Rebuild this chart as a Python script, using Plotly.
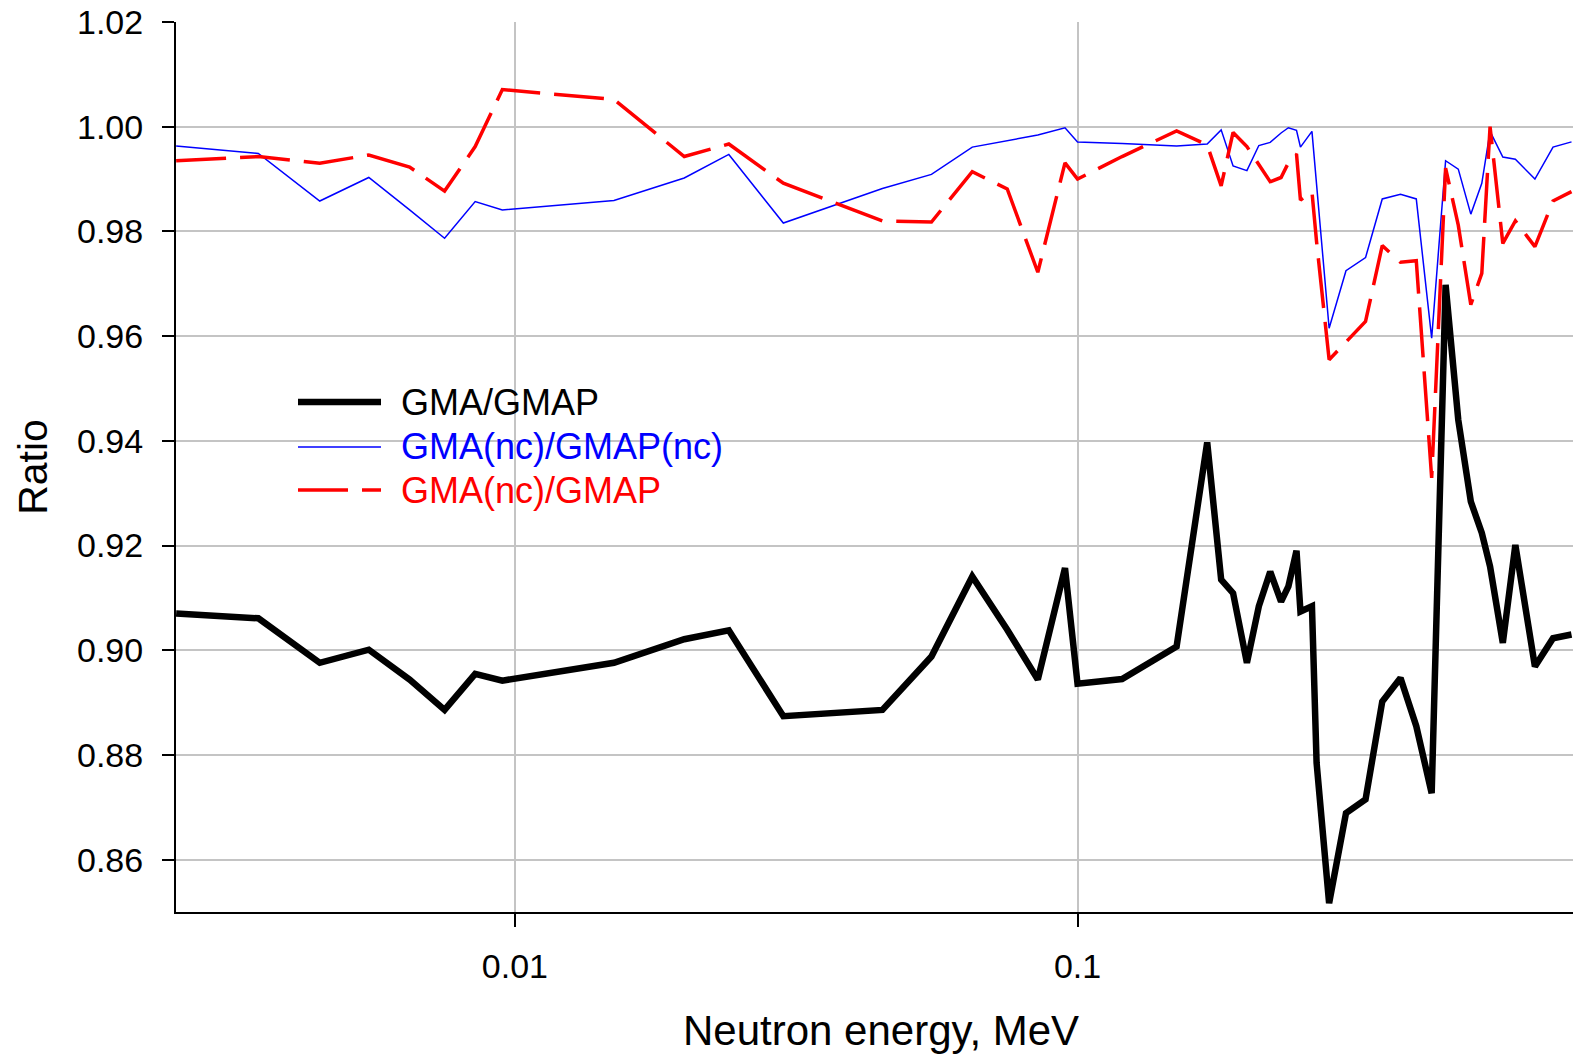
import plotly.graph_objects as go

# ---- data ----
energy_mev = [0.0025, 0.0035, 0.0045, 0.0055, 0.0065, 0.0075, 0.0085, 0.0095, 0.015, 0.02,
              0.024, 0.03, 0.045, 0.055, 0.065, 0.075, 0.085, 0.095, 0.1, 0.12,
              0.15, 0.17, 0.18, 0.189, 0.2, 0.21, 0.22, 0.23, 0.237, 0.245,
              0.249, 0.261, 0.266, 0.28, 0.3, 0.325, 0.348, 0.375, 0.4, 0.426,
              0.451, 0.475, 0.5, 0.523, 0.541, 0.57, 0.6, 0.65, 0.7, 0.755]

gma_gmap = [0.9070, 0.9061, 0.8976, 0.9001, 0.8944, 0.8886, 0.8955, 0.8942, 0.8976, 0.9021,
            0.9038, 0.8874, 0.8886, 0.8988, 0.9141, 0.9039, 0.8944, 0.9157, 0.8936, 0.8945,
            0.9007, 0.9397, 0.9135, 0.9109, 0.8976, 0.9084, 0.9150, 0.9093, 0.9122, 0.9190,
            0.9074, 0.9084, 0.8785, 0.8517, 0.8689, 0.8715, 0.8902, 0.8947, 0.8855, 0.8727,
            0.9698, 0.9440, 0.9284, 0.9224, 0.9160, 0.9014, 0.9201, 0.8969, 0.9023, 0.9030]

gma_nc_gmap_nc = [0.9963, 0.9949, 0.9858, 0.9903, 0.9841, 0.9787, 0.9857, 0.9841, 0.9859, 0.9902,
                  0.9947, 0.9816, 0.9882, 0.9909, 0.9961, 0.9973, 0.9984, 0.9998, 0.9971, 0.9968,
                  0.9963, 0.9967, 0.9994, 0.9925, 0.9916, 0.9964, 0.9970, 0.9988, 0.9998, 0.9993,
                  0.9961, 0.9991, 0.9887, 0.9615, 0.9725, 0.9750, 0.9862, 0.9871, 0.9862, 0.9596,
                  0.9935, 0.9919, 0.9833, 0.9892, 0.9991, 0.9942, 0.9938, 0.9900, 0.9961, 0.9971]

gma_nc_gmap = [0.9935, 0.9943, 0.9930, 0.9946, 0.9923, 0.9877, 0.9962, 1.0071, 1.0052, 0.9943,
               0.9967, 0.9892, 0.9820, 0.9818, 0.9914, 0.9881, 0.9722, 0.9931, 0.9900, 0.9943,
               0.9992, 0.9965, 0.9887, 0.9989, 0.9962, 0.9929, 0.9895, 0.9903, 0.9931, 0.9948,
               0.9860, 0.9876, 0.9780, 0.9555, 0.9589, 0.9628, 0.9773, 0.9741, 0.9744, 0.9329,
               0.9921, 0.9812, 0.9660, 0.9720, 1.0000, 0.9777, 0.9820, 0.9771, 0.9858, 0.9876]

series_names = ["GMA/GMAP", "GMA(nc)/GMAP(nc)", "GMA(nc)/GMAP"]
x_tick_vals = [0.01, 0.1]
x_tick_text = ["0.01", "0.1"]
x_title = "Neutron energy, MeV"
y_title = "Ratio"

FONT = "Liberation Sans, Arial, Helvetica, sans-serif"
DASH = "50px,14px"

fig = go.Figure()
fig.add_trace(go.Scatter(x=energy_mev, y=gma_gmap, mode="lines", name=series_names[0],
                         line=dict(color="#000000", width=6.5), showlegend=False))
fig.add_trace(go.Scatter(x=energy_mev, y=gma_nc_gmap_nc, mode="lines", name=series_names[1],
                         line=dict(color="#0000FF", width=1.5), showlegend=False))
fig.add_trace(go.Scatter(x=energy_mev, y=gma_nc_gmap, mode="lines", name=series_names[2],
                         line=dict(color="#FF0000", width=3.5, dash=DASH), showlegend=False))

# ---- manual legend (paper coordinates) ----
W, H = 1573, 1056
ml, mr, mt, mb = 176, 0, 22, 144
pw, ph = W - ml - mr, H - mt - mb

def px(xp):
    return (xp - ml) / pw

def py(yp):
    return (H - mb - yp) / ph

legend_rows = [(402, "#000000", 6.5, "solid"),
               (447, "#0000FF", 1.5, "solid"),
               (490, "#FF0000", 3.5, DASH)]
for (yrow, col, wid, dash), name in zip(legend_rows, series_names):
    fig.add_shape(type="line", xref="paper", yref="paper",
                  x0=px(298), x1=px(381), y0=py(yrow), y1=py(yrow),
                  line=dict(color=col, width=wid, dash=dash))
    fig.add_annotation(xref="paper", yref="paper", x=px(399), y=py(yrow),
                       xanchor="left", yanchor="middle", text=name, showarrow=False,
                       font=dict(family=FONT, size=36, color=col))

# x-axis title as annotation (slightly right of plot centre, as in the original)
fig.add_annotation(xref="paper", yref="paper", x=px(881), y=py(1030),
                   xanchor="center", yanchor="middle", text=x_title, showarrow=False,
                   font=dict(family=FONT, size=42, color="black"))

fig.update_layout(
    width=W, height=H,
    margin=dict(l=ml, r=mr, t=mt, b=mb, pad=0),
    paper_bgcolor="white", plot_bgcolor="white",
    font=dict(family=FONT, color="black"),
    showlegend=False,
)
fig.update_xaxes(
    type="log",
    range=[-2.6023, -0.1194],
    tickmode="array", tickvals=x_tick_vals, ticktext=x_tick_text,
    ticks="outside", ticklen=13, tickwidth=2, tickcolor="black",
    showline=True, linecolor="black", linewidth=2,
    showgrid=True, gridcolor="#c4c4c4", gridwidth=2,
    zeroline=False,
    tickfont=dict(family=FONT, size=34, color="black"),
    ticklabelstandoff=10,
)
fig.update_yaxes(
    range=[0.85, 1.02],
    tick0=0.86, dtick=0.02, tickformat=".2f",
    ticks="outside", ticklen=12, tickwidth=2, tickcolor="black",
    showline=True, linecolor="black", linewidth=2,
    showgrid=True, gridcolor="#c4c4c4", gridwidth=2,
    zeroline=False,
    tickfont=dict(family=FONT, size=34, color="black"),
    ticklabelstandoff=12,
    title=dict(text=y_title, font=dict(family=FONT, size=41, color="black"), standoff=17),
)

fig.write_html("out.html")
